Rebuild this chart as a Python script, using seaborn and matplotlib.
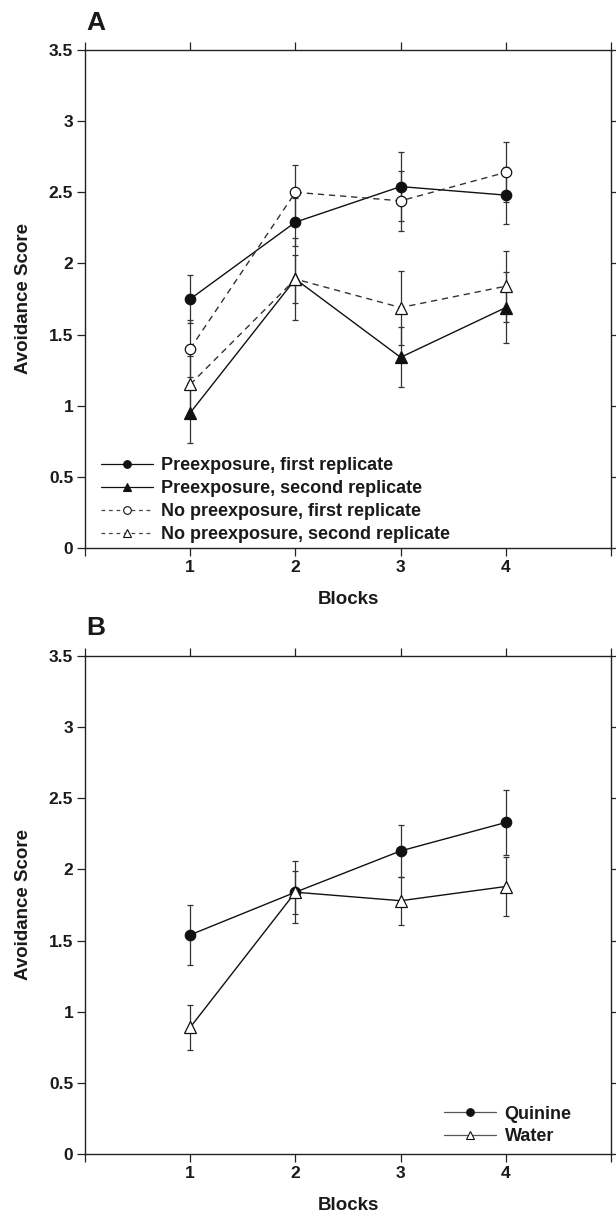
import matplotlib
matplotlib.use("Agg")
import matplotlib.pyplot as plt
import seaborn as sns
import pandas as pd
import numpy as np
from matplotlib.lines import Line2D

# ---------------- data ----------------
blocks = [1, 2, 3, 4]

# Panel A
pre1_mean = [1.75, 2.29, 2.54, 2.48]
pre1_se = [0.17, 0.17, 0.24, 0.20]
pre2_mean = [0.95, 1.89, 1.34, 1.69]
pre2_se = [0.21, 0.29, 0.21, 0.25]
nopre1_mean = [1.40, 2.50, 2.44, 2.64]
nopre1_se = [0.20, 0.19, 0.21, 0.21]
nopre2_mean = [1.15, 1.89, 1.69, 1.84]
nopre2_se = [0.20, 0.17, 0.26, 0.25]
labels_A = ["Preexposure, first replicate",
            "Preexposure, second replicate",
            "No preexposure, first replicate",
            "No preexposure, second replicate"]

# Panel B
quinine_mean = [1.54, 1.84, 2.13, 2.33]
quinine_se = [0.21, 0.22, 0.18, 0.23]
water_mean = [0.89, 1.84, 1.78, 1.88]
water_se = [0.16, 0.15, 0.17, 0.21]
labels_B = ["Quinine", "Water"]

y_ticks = [0, 0.5, 1, 1.5, 2, 2.5, 3, 3.5]
y_ticklabels = ["0", "0.5", "1", "1.5", "2", "2.5", "3", "3.5"]
x_ticks = [0, 1, 2, 3, 4, 5]
x_ticklabels = ["", "1", "2", "3", "4", ""]

# ---------------- style ----------------
sns.set_style("ticks")
plt.rcParams['font.family'] = ['Liberation Sans', 'DejaVu Sans']
plt.rcParams['font.weight'] = 'bold'

W, H = 616, 1218
fig = plt.figure(figsize=(W / 100, H / 100), dpi=100)
axA = fig.add_axes([85 / W, 1 - 548 / H, 526 / W, 498 / H])
axB = fig.add_axes([85 / W, 1 - 1154 / H, 526 / W, 498 / H])

TXT = '#1a1a1a'
FS_TICK = 12.5
FS_LAB = 13.5
FS_LEG = 13


def style_axes(ax):
    ax.set_xlim(0, 5)
    ax.set_ylim(0, 3.5)
    ax.set_xticks(x_ticks)
    ax.set_xticklabels(x_ticklabels)
    ax.set_yticks(y_ticks)
    ax.set_yticklabels(y_ticklabels)
    for s in ax.spines.values():
        s.set_visible(True)
        s.set_linewidth(1.0)
        s.set_color('#222222')
    ax.tick_params(axis='both', which='both', direction='out', length=6,
                   width=0.9, color='#222222', labelsize=FS_TICK,
                   labelcolor=TXT, top=True, right=True,
                   labeltop=False, labelright=False, pad=2.5)
    for lab in ax.get_xticklabels() + ax.get_yticklabels():
        lab.set_fontweight('bold')
    ax.set_xlabel("Blocks", fontsize=FS_LAB, fontweight='bold', color=TXT,
                  labelpad=12)
    ax.set_ylabel("Avoidance Score", fontsize=FS_LAB, fontweight='bold',
                  color=TXT, labelpad=12)


def draw_series(ax, mean, se, marker, filled, dashed, label):
    df = pd.DataFrame({"Blocks": blocks, "Score": mean})
    ls = (0, (4.5, 3.5)) if dashed else '-'
    col = '#333333' if dashed else '#111111'
    ax.errorbar(blocks, mean, yerr=se, fmt='none', ecolor='#333333',
                elinewidth=0.9, capsize=2.2, capthick=0.9, zorder=2)
    sns.lineplot(data=df, x="Blocks", y="Score", ax=ax, color=col,
                 linestyle=ls, linewidth=1.0, marker=marker,
                 markersize=7.5 if marker == 'o' else 8,
                 markerfacecolor='#111111' if filled else 'white',
                 markeredgecolor='#111111', markeredgewidth=0.9,
                 zorder=3, legend=False)
    return Line2D([0], [0], color='#444444' if dashed else '#111111',
                  linestyle=(0, (3, 3)) if dashed else '-', linewidth=0.9,
                  marker=marker, markersize=5.5,
                  markerfacecolor='#111111' if filled else 'white',
                  markeredgecolor='#111111', markeredgewidth=0.8,
                  label=label)


# ---------------- Panel A ----------------
hA = []
hA.append(draw_series(axA, pre1_mean, pre1_se, 'o', True, False, labels_A[0]))
hA.append(draw_series(axA, pre2_mean, pre2_se, '^', True, False, labels_A[1]))
hA.append(draw_series(axA, nopre1_mean, nopre1_se, 'o', False, True, labels_A[2]))
hA.append(draw_series(axA, nopre2_mean, nopre2_se, '^', False, True, labels_A[3]))
style_axes(axA)
legA = axA.legend(handles=hA, loc='lower left', bbox_to_anchor=(0.03, 0.01),
                  frameon=False, borderpad=0, borderaxespad=0,
                  handlelength=2.9, handletextpad=0.45, labelspacing=0.33,
                  prop={'size': FS_LEG, 'weight': 'bold'})
for t in legA.get_texts():
    t.set_color(TXT)

# ---------------- Panel B ----------------
hB = []
hB.append(draw_series(axB, quinine_mean, quinine_se, 'o', True, False, labels_B[0]))
hB.append(draw_series(axB, water_mean, water_se, '^', False, False, labels_B[1]))
style_axes(axB)
for h in hB:
    h.set_color('#555555')
legB = axB.legend(handles=hB, loc='lower right', bbox_to_anchor=(0.925, 0.018),
                  frameon=False, borderpad=0, borderaxespad=0,
                  handlelength=2.9, handletextpad=0.45, labelspacing=0.3,
                  prop={'size': FS_LEG, 'weight': 'bold'})
for t in legB.get_texts():
    t.set_color(TXT)

# panel letters
fig.text(86 / W, 1 - 30 / H, "A", fontsize=19, fontweight='bold', color=TXT,
         ha='left', va='baseline')
fig.text(86 / W, 1 - 635 / H, "B", fontsize=19, fontweight='bold', color=TXT,
         ha='left', va='baseline')

fig.savefig("out.png", dpi=100)
